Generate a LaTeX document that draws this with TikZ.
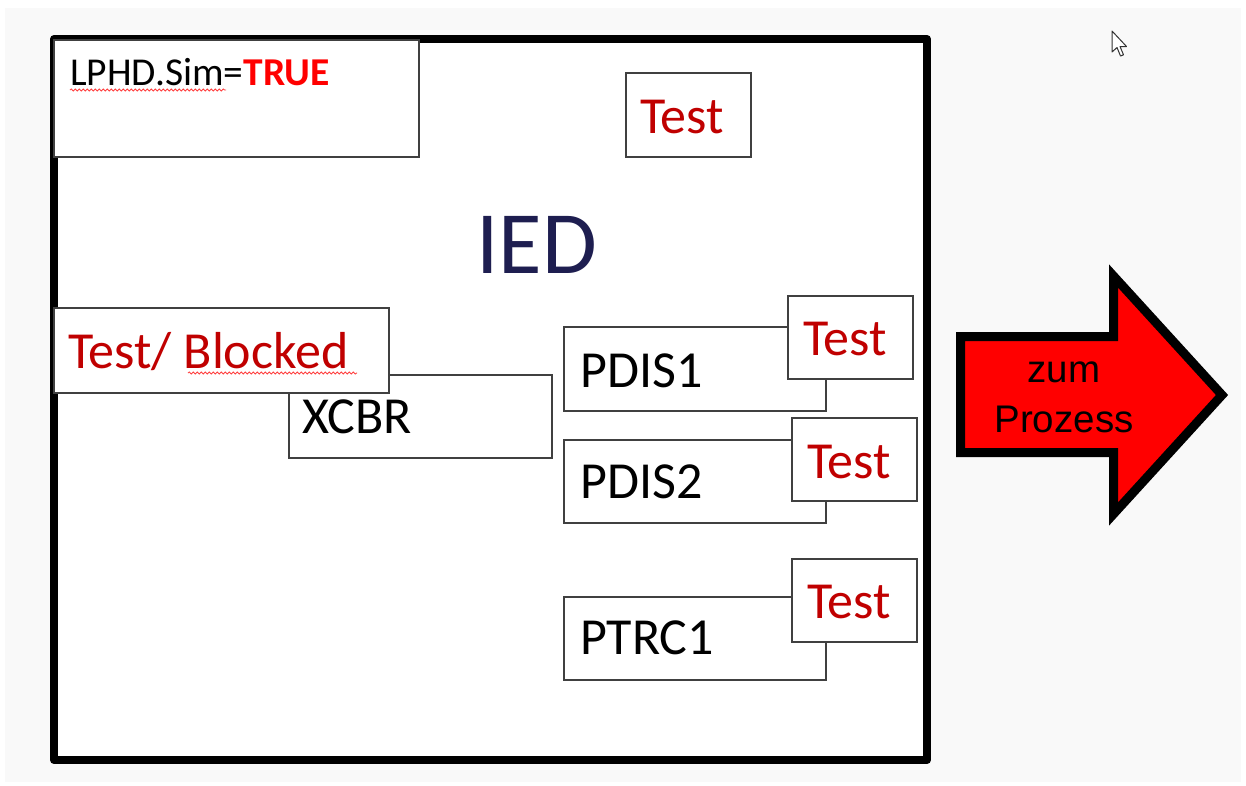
\documentclass[tikz,border=0pt]{standalone}
\usepackage{fontspec}
\setmainfont{Carlito}
\newfontfamily\arialfont{Liberation Sans}
\usetikzlibrary{fit,decorations.pathmorphing}
\definecolor{pagegray}{HTML}{F9F9F9}
\definecolor{boxline}{HTML}{404040}
\definecolor{darkred}{HTML}{C00000}
\definecolor{brightred}{HTML}{FF0000}
\definecolor{navy}{HTML}{1E1E50}
\tikzset{
  x=1pt, y=-1pt,
  lnbox/.style={draw=boxline, line width=1.3pt, fill=white, inner sep=0pt},
  txt/.style={inner sep=0pt, anchor=base west, font=\fontsize{52}{62}\selectfont},
  redtxt/.style={txt, text=darkred},
  blacktxt/.style={txt, text=black},
  squiggle/.style={draw=red!75, line width=0.8pt,
    decorate, decoration={snake, segment length=4pt, amplitude=1.1pt}},
}
\begin{document}
\begin{tikzpicture}
\useasboundingbox (0,0) rectangle (1246,785);
\fill[white] (0,0) rectangle (1246,785);
\fill[pagegray] (5,8) rectangle (1241,782);

% IED enclosure
\draw[line width=8pt, line join=round, fill=white] (54,39) rectangle (927,760);

% simulation flag
\node[lnbox, fit={(54,40)(419,157)}] (lphd) {};
\node[txt, font=\fontsize{39.5}{47}\selectfont] (lphdtxt) at (70,85)
  {LPHD.Sim=\textcolor{brightred}{\textbf{TRUE}}};
\draw[squiggle] (70,90) -- (226,90);

% device mode
\node[lnbox, fit={(626,73)(751,157)}] (iedtest) {};
\node[redtxt] (iedtesttxt) at (640,133) {Test};
\node[inner sep=0pt, anchor=base west, text=navy, font=\fontsize{89}{100}\selectfont] (ied) at (476,273) {IED};

% circuit breaker node with its mode
\node[lnbox, fit={(289,375)(552,458)}] (xcbr) {};
\node[blacktxt] (xcbrtxt) at (302,433) {XCBR};
\node[lnbox, fit={(54,308)(389,393)}] (xcbrmode) {};
\node[redtxt] (xcbrmodetxt) at (68,368) {Test/ Blocked};
\draw[squiggle] (188,373) -- (357,373);

% protection functions
\node[lnbox, fit={(564,327)(826,411)}] (pdis1) {};
\node[blacktxt] (pdis1txt) at (580,387) {PDIS1};
\node[lnbox, fit={(788,296)(913,379)}] (pdis1mode) {};
\node[redtxt] (pdis1modetxt) at (803,355) {Test};

\node[lnbox, fit={(564,440)(826,523)}] (pdis2) {};
\node[blacktxt] (pdis2txt) at (580,498) {PDIS2};
\node[lnbox, fit={(792,418)(917,501)}] (pdis2mode) {};
\node[redtxt] (pdis2modetxt) at (807,478) {Test};

\node[lnbox, fit={(564,597)(826,680)}] (ptrc1) {};
\node[blacktxt] (ptrc1txt) at (580,654) {PTRC1};
\node[lnbox, fit={(792,559)(917,642)}] (ptrc1mode) {};
\node[redtxt] (ptrc1modetxt) at (807,618) {Test};

% output arrow
\draw[line width=9pt, miter limit=10, fill=brightred]
  (960.5,336.5) -- (1113.5,336.5) -- (1113.5,276) -- (1222,395)
  -- (1113.5,514) -- (1113.5,452.5) -- (960.5,452.5) -- cycle;
\node[inner sep=0pt, anchor=base, font=\arialfont\fontsize{38.5}{46}\selectfont] (zum) at (1064,382) {zum};
\node[inner sep=0pt, anchor=base, font=\arialfont\fontsize{38.5}{46}\selectfont] (prozess) at (1064,432) {Prozess};

% mouse pointer
\draw[draw=black!80, fill=white, line width=1pt, line join=round]
  (1112,31) -- (1112,52) -- (1117,47.5) -- (1120.5,56) -- (1123.5,54.8)
  -- (1120,46.5) -- (1126.5,46.5) -- cycle;
\end{tikzpicture}
\end{document}
